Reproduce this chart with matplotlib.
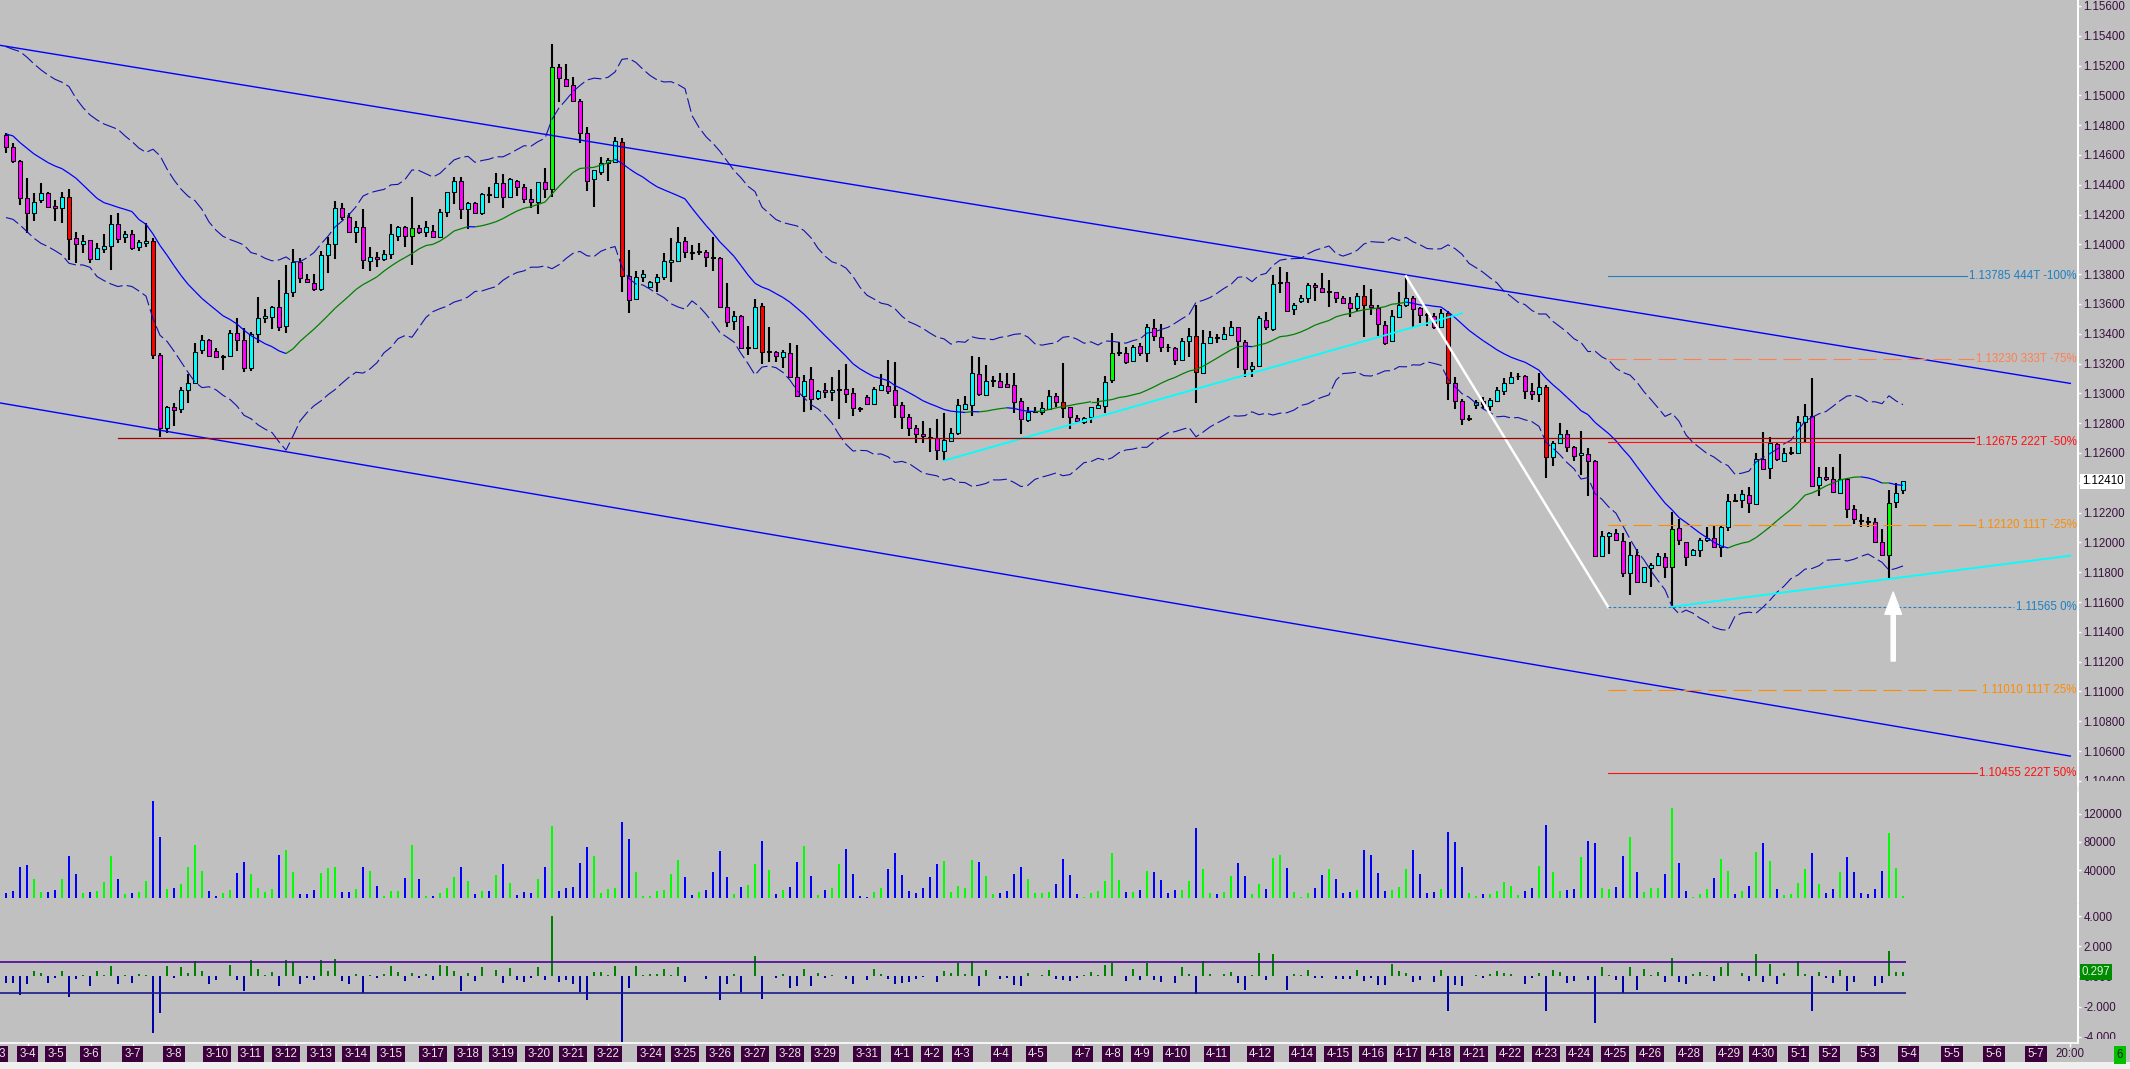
import numpy as np
import pandas as pd
import matplotlib
matplotlib.use("Agg")
import matplotlib.pyplot as plt
from matplotlib.collections import LineCollection
from matplotlib.lines import Line2D
from matplotlib.patches import Rectangle
from matplotlib.ticker import FormatStrFormatter
from matplotlib.transforms import Bbox, blended_transform_factory

plt.rcParams['font.family'] = ['Liberation Sans', 'DejaVu Sans']
plt.rcParams['lines.scale_dashes'] = False

# ---- candles (one bar = one period) ----
opens = [
    1.14735, 1.14656, 1.14562, 1.14314, 1.14209, 1.14298, 1.14343, 1.14258, 1.14242, 1.14316,
    1.14041, 1.14001, 1.14030, 1.13900, 1.13971, 1.13989, 1.14137, 1.14048, 1.14068, 1.13980,
    1.14007, 1.14025, 1.13258, 1.12766, 1.12909, 1.12893, 1.13023, 1.13072, 1.13291, 1.13359,
    1.13287, 1.13244, 1.13251, 1.13408, 1.13359, 1.13168, 1.13399, 1.13504, 1.13515, 1.13578,
    1.13452, 1.13683, 1.13880, 1.13766, 1.13743, 1.13699, 1.13927, 1.14001, 1.14242, 1.14182,
    1.14086, 1.14115, 1.13891, 1.13918, 1.13900, 1.13934, 1.14057, 1.14119, 1.14057, 1.14108,
    1.14081, 1.14092, 1.14052, 1.14215, 1.14354, 1.14428, 1.14235, 1.14276, 1.14213, 1.14329,
    1.14320, 1.14410, 1.14320, 1.14428, 1.14383, 1.14303, 1.14287, 1.14421, 1.14370, 1.15193,
    1.15108, 1.15070, 1.14965, 1.14750, 1.14437, 1.14488, 1.14549, 1.14555, 1.14685, 1.13790,
    1.13631, 1.13779, 1.13717, 1.13750, 1.13784, 1.13880, 1.13891, 1.14025, 1.13943, 1.13947,
    1.13951, 1.13909, 1.13907, 1.13582, 1.13486, 1.13520, 1.13307, 1.13307, 1.13587, 1.13278,
    1.13280, 1.13247, 1.13273, 1.13112, 1.12985, 1.13094, 1.12967, 1.13023, 1.13007, 1.13025,
    1.13028, 1.13001, 1.12894, 1.12974, 1.12929, 1.13023, 1.13050, 1.13023, 1.12923, 1.12840,
    1.12766, 1.12728, 1.12704, 1.12699, 1.12616, 1.12683, 1.12737, 1.12896, 1.12923, 1.13131,
    1.12990, 1.13084, 1.13086, 1.13063, 1.13057, 1.12949, 1.12822, 1.12876, 1.12878, 1.12896,
    1.12983, 1.12945, 1.12907, 1.12833, 1.12811, 1.12840, 1.12900, 1.12918, 1.13090, 1.13274,
    1.13269, 1.13218, 1.13319, 1.13269, 1.13437, 1.13381, 1.13308, 1.13307, 1.13225, 1.13352,
    1.13386, 1.13135, 1.13341, 1.13372, 1.13363, 1.13392, 1.13444, 1.13347, 1.13162, 1.13184,
    1.13492, 1.13430, 1.13740, 1.13745, 1.13564, 1.13620, 1.13638, 1.13727, 1.13705, 1.13682,
    1.13678, 1.13638, 1.13604, 1.13571, 1.13655, 1.13593, 1.13575, 1.13459, 1.13351, 1.13515,
    1.13593, 1.13638, 1.13571, 1.13524, 1.13519, 1.13447, 1.13537, 1.13067, 1.12951, 1.12829,
    1.12922, 1.12951, 1.12915, 1.12951, 1.13018, 1.13072, 1.13114, 1.13116, 1.13018, 1.12996,
    1.13045, 1.12575, 1.12665, 1.12727, 1.12642, 1.12589, 1.12593, 1.12546, 1.11911, 1.12045,
    1.12061, 1.12011, 1.11792, 1.11915, 1.11736, 1.11826, 1.11848, 1.11904, 1.11832, 1.12094,
    1.12005, 1.11915, 1.11949, 1.12016, 1.12027, 1.11971, 1.12101, 1.12278, 1.12284, 1.12318,
    1.12258, 1.12560, 1.12497, 1.12660, 1.12548, 1.12600, 1.12598, 1.12810, 1.12848, 1.12385,
    1.12441, 1.12425, 1.12334, 1.12423, 1.12224, 1.12144, 1.12139, 1.12139, 1.12005, 1.11915,
    1.12273, 1.12349,
]
highs = [
    1.14746, 1.14678, 1.14567, 1.14444, 1.14343, 1.14414, 1.14354, 1.14298, 1.14354, 1.14370,
    1.14083, 1.14063, 1.14030, 1.14007, 1.14070, 1.14198, 1.14213, 1.14090, 1.14097, 1.14030,
    1.14142, 1.14041, 1.13273, 1.12916, 1.12933, 1.13041, 1.13130, 1.13341, 1.13392, 1.13363,
    1.13303, 1.13258, 1.13426, 1.13504, 1.13437, 1.13414, 1.13649, 1.13564, 1.13587, 1.13761,
    1.13862, 1.13969, 1.13907, 1.13801, 1.13799, 1.13958, 1.14048, 1.14291, 1.14276, 1.14209,
    1.14155, 1.14235, 1.13985, 1.13951, 1.13963, 1.14137, 1.14124, 1.14124, 1.14316, 1.14130,
    1.14159, 1.14130, 1.14235, 1.14354, 1.14450, 1.14450, 1.14287, 1.14287, 1.14343, 1.14388,
    1.14477, 1.14473, 1.14448, 1.14432, 1.14406, 1.14370, 1.14421, 1.14511, 1.15345, 1.15211,
    1.15211, 1.15126, 1.14974, 1.14790, 1.14499, 1.14589, 1.14578, 1.14723, 1.14712, 1.13963,
    1.13824, 1.13828, 1.13757, 1.13801, 1.13940, 1.14041, 1.14115, 1.14052, 1.13996, 1.14012,
    1.13963, 1.14052, 1.13914, 1.13739, 1.13553, 1.13527, 1.13452, 1.13631, 1.13609, 1.13448,
    1.13285, 1.13291, 1.13341, 1.13325, 1.13121, 1.13175, 1.13023, 1.13068, 1.13112, 1.13157,
    1.13198, 1.13034, 1.12911, 1.12990, 1.13046, 1.13131, 1.13225, 1.13209, 1.12945, 1.12862,
    1.12788, 1.12815, 1.12766, 1.12826, 1.12867, 1.12771, 1.12963, 1.12983, 1.13251, 1.13242,
    1.13191, 1.13117, 1.13140, 1.13140, 1.13135, 1.12967, 1.12911, 1.12911, 1.12945, 1.13023,
    1.13001, 1.13202, 1.12911, 1.12855, 1.12844, 1.12907, 1.12972, 1.13117, 1.13404, 1.13347,
    1.13310, 1.13325, 1.13341, 1.13466, 1.13497, 1.13464, 1.13330, 1.13314, 1.13370, 1.13437,
    1.13594, 1.13426, 1.13421, 1.13399, 1.13444, 1.13486, 1.13448, 1.13359, 1.13209, 1.13520,
    1.13548, 1.13794, 1.13846, 1.13817, 1.13609, 1.13660, 1.13738, 1.13738, 1.13805, 1.13761,
    1.13682, 1.13653, 1.13649, 1.13676, 1.13727, 1.13698, 1.13593, 1.13488, 1.13559, 1.13682,
    1.13785, 1.13653, 1.13577, 1.13541, 1.13541, 1.13564, 1.13553, 1.13107, 1.12960, 1.12855,
    1.12955, 1.12973, 1.12967, 1.13040, 1.13101, 1.13145, 1.13139, 1.13123, 1.13067, 1.13139,
    1.13056, 1.12682, 1.12799, 1.12754, 1.12647, 1.12747, 1.12631, 1.12553, 1.12078, 1.12072,
    1.12090, 1.12065, 1.12005, 1.11953, 1.11837, 1.11859, 1.11931, 1.11931, 1.12206, 1.12155,
    1.12005, 1.11953, 1.12027, 1.12106, 1.12117, 1.12117, 1.12325, 1.12325, 1.12352, 1.12374,
    1.12598, 1.12743, 1.12705, 1.12676, 1.12631, 1.12642, 1.12848, 1.12926, 1.13101, 1.12508,
    1.12504, 1.12504, 1.12591, 1.12430, 1.12251, 1.12189, 1.12168, 1.12161, 1.12088, 1.12352,
    1.12401, 1.12414,
]
lows = [
    1.14611, 1.14544, 1.14265, 1.14075, 1.14159, 1.14280, 1.14253, 1.14159, 1.14142, 1.13896,
    1.13878, 1.13945, 1.13873, 1.13896, 1.13945, 1.13828, 1.14012, 1.14007, 1.13963, 1.13958,
    1.13985, 1.13229, 1.12705, 1.12737, 1.12781, 1.12871, 1.12933, 1.13063, 1.13265, 1.13242,
    1.13235, 1.13157, 1.13247, 1.13287, 1.13144, 1.13153, 1.13336, 1.13470, 1.13430, 1.13421,
    1.13408, 1.13649, 1.13739, 1.13739, 1.13690, 1.13690, 1.13810, 1.13905, 1.14164, 1.14075,
    1.14007, 1.13833, 1.13824, 1.13851, 1.13891, 1.13900, 1.14025, 1.13985, 1.13862, 1.14070,
    1.14048, 1.14048, 1.14052, 1.14182, 1.14271, 1.14168, 1.14104, 1.14202, 1.14198, 1.14280,
    1.14316, 1.14242, 1.14314, 1.14325, 1.14276, 1.14242, 1.14202, 1.14314, 1.14320, 1.14958,
    1.15054, 1.14958, 1.14678, 1.14361, 1.14249, 1.14466, 1.14428, 1.14549, 1.13683, 1.13538,
    1.13627, 1.13750, 1.13717, 1.13683, 1.13761, 1.13746, 1.13885, 1.13907, 1.13896, 1.13927,
    1.13846, 1.13824, 1.13578, 1.13443, 1.13426, 1.13296, 1.13258, 1.13296, 1.13198, 1.13213,
    1.13209, 1.13168, 1.13101, 1.12978, 1.12873, 1.12889, 1.12956, 1.12967, 1.12951, 1.12826,
    1.12934, 1.12849, 1.12878, 1.12923, 1.12923, 1.13019, 1.12996, 1.12833, 1.12759, 1.12715,
    1.12665, 1.12665, 1.12609, 1.12553, 1.12549, 1.12677, 1.12721, 1.12889, 1.12849, 1.12983,
    1.12985, 1.13046, 1.13046, 1.13041, 1.12871, 1.12728, 1.12806, 1.12867, 1.12855, 1.12889,
    1.12911, 1.12833, 1.12762, 1.12806, 1.12795, 1.12804, 1.12900, 1.12871, 1.13068, 1.13251,
    1.13198, 1.13209, 1.13251, 1.13213, 1.13354, 1.13280, 1.13280, 1.13191, 1.13220, 1.13247,
    1.12934, 1.13128, 1.13336, 1.13341, 1.13359, 1.13386, 1.13169, 1.13108, 1.13108, 1.13179,
    1.13425, 1.13418, 1.13671, 1.13544, 1.13526, 1.13609, 1.13609, 1.13622, 1.13671, 1.13577,
    1.13604, 1.13600, 1.13515, 1.13555, 1.13380, 1.13526, 1.13385, 1.13324, 1.13347, 1.13515,
    1.13577, 1.13447, 1.13474, 1.13452, 1.13430, 1.13447, 1.12955, 1.12893, 1.12788, 1.12817,
    1.12895, 1.12895, 1.12884, 1.12940, 1.12989, 1.13067, 1.13090, 1.12962, 1.12955, 1.12940,
    1.12430, 1.12515, 1.12660, 1.12604, 1.12548, 1.12452, 1.12313, 1.11904, 1.11908, 1.11920,
    1.12011, 1.11765, 1.11647, 1.11729, 1.11736, 1.11698, 1.11841, 1.11759, 1.11565, 1.11982,
    1.11844, 1.11909, 1.11900, 1.12005, 1.11967, 1.11900, 1.12079, 1.12273, 1.12233, 1.12195,
    1.12251, 1.12486, 1.12423, 1.12548, 1.12548, 1.12586, 1.12593, 1.12665, 1.12378, 1.12314,
    1.12414, 1.12334, 1.12329, 1.12161, 1.12123, 1.12106, 1.12101, 1.11998, 1.11909, 1.11760,
    1.12233, 1.12322,
]
closes = [
    1.14652, 1.14562, 1.14314, 1.14209, 1.14287, 1.14343, 1.14253, 1.14242, 1.14316, 1.14034,
    1.14001, 1.14023, 1.13900, 1.13974, 1.13989, 1.14135, 1.14034, 1.14070, 1.13978, 1.14014,
    1.14025, 1.13258, 1.12766, 1.12911, 1.12889, 1.13023, 1.13072, 1.13280, 1.13359, 1.13251,
    1.13242, 1.13244, 1.13408, 1.13359, 1.13168, 1.13397, 1.13504, 1.13522, 1.13578, 1.13448,
    1.13672, 1.13880, 1.13772, 1.13746, 1.13699, 1.13927, 1.14001, 1.14242, 1.14182, 1.14086,
    1.14115, 1.13896, 1.13914, 1.13900, 1.13934, 1.14070, 1.14115, 1.14057, 1.14108, 1.14081,
    1.14119, 1.14048, 1.14215, 1.14354, 1.14428, 1.14235, 1.14280, 1.14213, 1.14336, 1.14329,
    1.14410, 1.14320, 1.14439, 1.14383, 1.14303, 1.14287, 1.14421, 1.14370, 1.15193, 1.15115,
    1.15063, 1.14965, 1.14750, 1.14428, 1.14499, 1.14549, 1.14567, 1.14696, 1.13790, 1.13627,
    1.13779, 1.13799, 1.13750, 1.13784, 1.13891, 1.13896, 1.14019, 1.13947, 1.13943, 1.13947,
    1.13918, 1.13909, 1.13582, 1.13482, 1.13522, 1.13307, 1.13307, 1.13582, 1.13276, 1.13278,
    1.13253, 1.13280, 1.13112, 1.12985, 1.13086, 1.12962, 1.13018, 1.13007, 1.13023, 1.13025,
    1.12994, 1.12900, 1.12894, 1.12929, 1.13028, 1.13057, 1.13019, 1.12923, 1.12840, 1.12766,
    1.12728, 1.12715, 1.12704, 1.12621, 1.12688, 1.12737, 1.12923, 1.12929, 1.13135, 1.12996,
    1.13084, 1.13084, 1.13046, 1.13046, 1.12945, 1.12826, 1.12873, 1.12876, 1.12900, 1.12983,
    1.12945, 1.12900, 1.12840, 1.12817, 1.12833, 1.12907, 1.12923, 1.13079, 1.13269, 1.13274,
    1.13213, 1.13314, 1.13269, 1.13448, 1.13386, 1.13310, 1.13308, 1.13225, 1.13352, 1.13386,
    1.13146, 1.13341, 1.13377, 1.13372, 1.13397, 1.13448, 1.13352, 1.13162, 1.13184, 1.13504,
    1.13443, 1.13732, 1.13740, 1.13555, 1.13593, 1.13638, 1.13727, 1.13711, 1.13682, 1.13682,
    1.13638, 1.13609, 1.13571, 1.13655, 1.13593, 1.13577, 1.13465, 1.13340, 1.13519, 1.13593,
    1.13638, 1.13564, 1.13526, 1.13524, 1.13443, 1.13537, 1.13067, 1.12951, 1.12826, 1.12829,
    1.12944, 1.12929, 1.12955, 1.13022, 1.13072, 1.13112, 1.13114, 1.13018, 1.12996, 1.13045,
    1.12575, 1.12665, 1.12727, 1.12642, 1.12582, 1.12602, 1.12546, 1.11911, 1.12045, 1.12065,
    1.12016, 1.11792, 1.11915, 1.11736, 1.11832, 1.11848, 1.11908, 1.11832, 1.12087, 1.12016,
    1.11904, 1.11949, 1.12016, 1.12032, 1.11971, 1.12101, 1.12280, 1.12278, 1.12325, 1.12262,
    1.12560, 1.12490, 1.12665, 1.12557, 1.12598, 1.12600, 1.12808, 1.12848, 1.12381, 1.12441,
    1.12423, 1.12336, 1.12423, 1.12224, 1.12155, 1.12144, 1.12139, 1.12005, 1.11915, 1.12267,
    1.12329, 1.12410,
]
volumes = [
    7100, 10900, 44900, 47300, 27400, 9500, 9500, 12300, 27400, 60500,
    35000, 7100, 9500, 10900, 23600, 60500, 27900, 6600, 8000, 9500,
    25100, 138500, 87500, 13200, 15100, 20800, 44900, 75600, 38800, 10900,
    3800, 8000, 12300, 36400, 52000, 35000, 15100, 9500, 13200, 61900,
    69000, 37800, 6600, 6600, 12300, 36400, 43500, 44900, 9500, 9500,
    13700, 44900, 39200, 18000, 3800, 10900, 10900, 29300, 76100, 27900,
    3800, 3800, 8000, 15100, 30700, 44900, 25100, 6600, 10900, 10900,
    33600, 49200, 22200, 5200, 9500, 8000, 27900, 44900, 103000, 10900,
    15100, 16500, 50600, 73300, 60500, 8000, 13700, 15100, 108700, 84600,
    37800, 3800, 3800, 10900, 12300, 35000, 54800, 30700, 5200, 9400,
    12200, 37700, 67400, 30600, 6600, 16500, 19300, 49000, 81500, 40500,
    6600, 12200, 16500, 51800, 74400, 32000, 5200, 12200, 15100, 49000,
    70200, 34900, 3800, 2400, 9400, 15100, 41900, 64500, 33400, 10800,
    8000, 15100, 30600, 49000, 53200, 9400, 17900, 15100, 54600, 51800,
    32000, 6600, 8000, 10800, 34900, 44700, 27800, 8000, 8000, 9400,
    20700, 56000, 33400, 6600, 2400, 8000, 10800, 25000, 64500, 26400,
    9400, 9400, 12200, 39100, 37700, 26400, 8000, 12200, 12200, 25000,
    99900, 41900, 8000, 6600, 9400, 32000, 50400, 32000, 6600, 20700,
    13700, 57500, 61700, 43300, 9400, 2400, 8000, 15100, 33400, 41900,
    27800, 8000, 9400, 12200, 68800, 61700, 36300, 10800, 12200, 16500,
    41900, 68800, 34900, 8000, 9400, 13700, 94200, 80100, 44700, 8000,
    3800, 6600, 6600, 10800, 23600, 17900, 5200, 10800, 15100, 46200,
    104100, 37700, 10800, 12200, 13700, 58900, 81500, 78700, 15100, 13700,
    16500, 60300, 87100, 37700, 9400, 15100, 15100, 34900, 128100, 50400,
    10800, 2400, 6600, 13700, 29200, 56000, 39100, 6600, 10800, 17900,
    65900, 78700, 53200, 13700, 5200, 6600, 22100, 41900, 64500, 20700,
    8000, 13700, 37700, 58900, 37700, 8000, 6600, 13700, 39100, 92800,
    43300, 3800,
]
# bars the platform paints as signal candles
red_bars = [9, 21, 88, 108, 151, 170, 194, 206, 220]
lime_bars = [58, 78, 158, 238, 269]

# channel / average values for the bars before the 20-bar window fills
mid_head = [1.14741, 1.14728, 1.14683, 1.14645, 1.14607, 1.14578, 1.14549, 1.14526, 1.14508, 1.14477,
            1.14444, 1.14399, 1.14354, 1.14309, 1.14280, 1.14265, 1.14249, 1.14235, 1.14220]
upper_head = [1.15327, 1.15309, 1.15294, 1.15256, 1.15211, 1.15171, 1.15137, 1.15108, 1.15088, 1.15059,
              1.14980, 1.14918, 1.14869, 1.14835, 1.14808, 1.14790, 1.14772, 1.14728, 1.14690]
lower_head = [1.14180, 1.14168, 1.14130, 1.14086, 1.14041, 1.14007, 1.13985, 1.13958, 1.13929, 1.13873,
              1.13862, 1.13862, 1.13846, 1.13784, 1.13757, 1.13734, 1.13717, 1.13726, 1.13717]
MA_PERIOD = 20
BAND_MULT = 2.55
OSC_SCALE = 487
OSC_UPPER, OSC_LOWER = 0.97, -1.10

# drawn objects
chan_x = [-0.86, 294.9]
chan_upper = [1.15336, 1.13067]
chan_lower = [1.12936, 1.10566]
trend1_x, trend1_y = [134, 208], [1.12549, 1.13537]
trend2_x, trend2_y = [238, 294.9], [1.11568, 1.11911]
leg_x, leg_y = [200, 228.9], [1.13785, 1.11565]
hline_start, hline_price = 16, 1.12700
fib_start = 228.9
fib_prices = [1.13785, 1.13230, 1.12675, 1.12120, 1.11565, 1.11010, 1.10455]
fib_labels = ["1.13785 444T -100%", "1.13230 333T -75%", "1.12675 222T -50%",
              "1.12120 111T -25%", "1.11565 0%", "1.11010 111T 25%", "1.10455 222T 50%"]
arrow_bar, arrow_tip, arrow_tail = 269.6, 1.11667, 1.11204

date_labels = ["3-3", "3-4", "3-5", "3-6", "3-7", "3-8", "3-10", "3-11", "3-12", "3-13",
               "3-14", "3-15", "3-17", "3-18", "3-19", "3-20", "3-21", "3-22", "3-24", "3-25",
               "3-26", "3-27", "3-28", "3-29", "3-31", "4-1", "4-2", "4-3", "4-4", "4-5",
               "4-7", "4-8", "4-9", "4-10", "4-11", "4-12", "4-14", "4-15", "4-16", "4-17",
               "4-18", "4-21", "4-22", "4-23", "4-24", "4-25", "4-26", "4-28", "4-29", "4-30",
               "5-1", "5-2", "5-3", "5-4", "5-5", "5-6", "5-7"]
date_pos = [-1.2, 3.1, 7.1, 12.1, 18.1, 24, 30.1, 35, 40, 45,
            50, 55, 61, 66, 71, 76.1, 81, 86, 92.1, 97,
            102, 107, 112, 117, 123, 128, 132.3, 136.6, 142.2, 147.2,
            153.8, 158.1, 162.3, 167.2, 173, 179.2, 185.2, 190.3, 195.3, 200.2,
            204.9, 209.7, 214.9, 220, 224.8, 229.9, 234.9, 240.5, 246.2, 251,
            256.1, 260.5, 266, 271.8, 278, 284, 290]
time_label, time_pos = "20:00", 294.9

o = np.array(opens)
h = np.array(highs)
l = np.array(lows)
c = np.array(closes)
v = np.array(volumes)
n = len(c)
x = np.arange(n)

# ---- figure / panels ----
W, H = 2130, 1069
AX_R = 2078
BG = '#c0c0c0'
LBL = '#3a1040'
fig = plt.figure(figsize=(W / 100, H / 100), dpi=100, facecolor=BG)


def frame(top, bottom):
    return [0, 1 - bottom / H, AX_R / W, (bottom - top) / H]


ax_p = fig.add_axes(frame(0, 785))
ax_v = fig.add_axes(frame(793, 902), sharex=ax_p)
ax_o = fig.add_axes(frame(905, 1043), sharex=ax_p)

for ax in (ax_p, ax_v, ax_o):
    ax.set_facecolor(BG)
    for s in ('left', 'top', 'bottom'):
        ax.spines[s].set_visible(False)
    ax.spines['right'].set_color('white')
    ax.spines['right'].set_linewidth(1.2)
    ax.yaxis.tick_right()
    ax.tick_params(axis='y', colors='white', labelcolor=LBL, length=2.5, width=1,
                   pad=1.5, labelsize=8.3)
    ax.tick_params(axis='x', bottom=False, labelbottom=False)

ax_p.set_xlim(-6 / 7, (AX_R - 6) / 7)
ax_p.set_ylim(1.10372, 1.15640)
ax_p.set_yticks(np.arange(1.104, 1.1561, 0.002))
ax_p.yaxis.set_major_formatter(FormatStrFormatter('%.5f'))

# ---- candles ----
body_col = np.where(c > o, '#00ffff', np.where(c < o, '#ff00ff', '#000000')).astype(object)
body_col[red_bars] = '#ff0000'
body_col[lime_bars] = '#00ff00'
ax_p.vlines(x, l, h, color='black', lw=1.5, zorder=3)
ax_p.bar(x, np.maximum(np.abs(c - o), 0.00006), bottom=np.minimum(o, c), width=0.6,
         color=list(body_col), edgecolor='black', linewidth=0.75, zorder=4)

# ---- moving average channel (SMA +/- ATR) with slope-coloured middle line ----
cs = pd.Series(c)
prev_c = cs.shift(1).fillna(cs.iloc[0])
tr = pd.concat([pd.Series(h - l), (pd.Series(h) - prev_c).abs(),
                (pd.Series(l) - prev_c).abs()], axis=1).max(axis=1)
mid = cs.rolling(MA_PERIOD).mean().to_numpy()
atr = tr.rolling(MA_PERIOD).mean().to_numpy()
upper = mid + BAND_MULT * atr
lower = mid - BAND_MULT * atr
k = MA_PERIOD - 1
mid[:k], upper[:k], lower[:k] = mid_head, upper_head, lower_head
ax_p.plot(x, upper, color='#1010b0', lw=0.8, ls=(0, (10, 3)), zorder=5)
ax_p.plot(x, lower, color='#1010b0', lw=0.8, ls=(0, (10, 3)), zorder=5)
pts = np.column_stack([x, mid])
segs = np.stack([pts[:-1], pts[1:]], axis=1)
seg_col = np.where(np.diff(mid) >= 0, '#008000', '#0000ff')
ax_p.add_collection(LineCollection(segs, colors=seg_col, linewidths=0.9, zorder=5))

# ---- drawn lines ----
ax_p.plot(chan_x, chan_upper, color='#0000ff', lw=1.0, zorder=6)
ax_p.plot(chan_x, chan_lower, color='#0000ff', lw=1.0, zorder=6)
ax_p.plot(trend1_x, trend1_y, color='#00ffff', lw=1.3, zorder=6)
ax_p.plot(trend2_x, trend2_y, color='#00ffff', lw=1.3, zorder=6)
ax_p.plot(leg_x, leg_y, color='white', lw=1.8, zorder=6)

fib_cols = ['#1e80c0', '#ff7f50', '#ff1010', '#ff8c00', '#1e80c0', '#ff8c00', '#ff1010']
fib_ls = ['-', (0, (13, 5)), '-', (0, (13, 5)), (0, (2, 1.6)), (0, (13, 5)), '-']
tr_p = blended_transform_factory(ax_p.transAxes, ax_p.transData)
fib_texts = []
for price, lab, col in zip(fib_prices, fib_labels, fib_cols):
    fib_texts.append(ax_p.text(1 - 1.5 / AX_R, price, lab, transform=tr_p, ha='right',
                               va='center', fontsize=8.3, color=col, zorder=8))

ax_p.annotate('', xy=(arrow_bar, arrow_tip), xytext=(arrow_bar, arrow_tail),
              arrowprops=dict(facecolor='white', edgecolor='white', width=3,
                              headwidth=12, headlength=16), zorder=9)

ax_p.text(1 + 4 / AX_R, closes[-1], f'{closes[-1]:.5f}', transform=tr_p, ha='left',
          va='center', fontsize=8.3, color='black', zorder=10, clip_on=False,
          bbox=dict(boxstyle='square,pad=0.15', fc='white', ec='none'))

# ---- volume ----
up = (c > o) | ((c == o) & (c >= np.r_[c[0], c[:-1]]))
ax_v.bar(x, v, width=0.4, color=np.where(up, '#00ff00', '#0000ff'), linewidth=0)
ax_v.set_ylim(-4947, 149100)
ax_v.set_yticks([40000, 80000, 120000])
ax_v.yaxis.set_major_formatter(FormatStrFormatter('%d'))

# ---- body oscillator ----
osc = (c - o) * OSC_SCALE
ax_o.bar(x, osc, width=0.4, color=np.where(osc >= 0, '#008000', '#0000a8'), linewidth=0)
ax_o.hlines(OSC_UPPER, -0.86, n - 0.6, color='#4b0096', lw=1.2)
ax_o.hlines(OSC_LOWER, -0.86, n - 0.6, color='#1a1a8c', lw=1.2)
ax_o.set_ylim(-4.404, 4.735)
ax_o.set_yticks([-4, -2, 0, 2, 4])
ax_o.yaxis.set_major_formatter(FormatStrFormatter('%.3f'))
tr_o = blended_transform_factory(ax_o.transAxes, ax_o.transData)
ax_o.text(1 + 4 / AX_R, osc[-1], f'{osc[-1]:.3f}', transform=tr_o, ha='left', va='center',
          fontsize=8.3, color='#e0f0e0', zorder=10, clip_on=False,
          bbox=dict(boxstyle='square,pad=0.15', fc='#008c00', ec='none'))

# ---- date axis ----
ax_o.spines['bottom'].set_visible(True)
ax_o.spines['bottom'].set_color('white')
ax_o.spines['bottom'].set_linewidth(1.2)
ax_o.set_xticks([p for p in date_pos if p > -0.8] + [time_pos])
ax_o.tick_params(axis='x', bottom=True, colors='white', length=3, width=1, labelbottom=False)
tr_x = ax_o.get_xaxis_transform()
for p, lab in zip(date_pos, date_labels):
    ax_o.text(p, -0.083, lab, transform=tr_x, ha='center', va='center', fontsize=8.3,
              color='#e6e6e6', clip_on=False,
              bbox=dict(boxstyle='square,pad=0.2', fc='#3c003c', ec='none'))
ax_o.text(time_pos, -0.083, time_label, transform=tr_x, ha='center', va='center',
          fontsize=8.3, color=LBL, clip_on=False)

fig.add_artist(Line2D([AX_R / W] * 2, [1 - 1043 / H, 1], color='white', lw=1.2))
fig.add_artist(Rectangle((0, 0), 1, 7 / H, transform=fig.transFigure, fc='#f0f0f0', ec='none'))
fig.text(2120 / W, 1 - 1055 / H, '6', ha='center', va='center', fontsize=8.3, color='#202020',
         bbox=dict(boxstyle='square,pad=0.25', fc='#00c000', ec='none'))

# ---- fib lines stop where their label begins ----
fig.canvas.draw()
inv = ax_p.transData.inverted()
ends = []
for t, price, col, ls in zip(fib_texts, fib_prices, fib_cols, fib_ls):
    x_end = inv.transform((t.get_window_extent().x0 - 2, 0))[0]
    ends.append(x_end)
    ax_p.plot([fib_start, x_end], [price, price], color=col, lw=0.8, ls=ls, zorder=6)
ax_p.plot([hline_start, ends[2]], [hline_price, hline_price], color='#a00000', lw=0.9, zorder=6)

# cut the edge labels a little above their panel border, as the platform does
for ax in (ax_p, ax_o):
    bb = ax.get_window_extent()
    clip = Bbox.from_extents(0, bb.y0 + 4, W, bb.y1)
    for lbl in ax.get_yticklabels():
        lbl.set_clip_box(clip)

fig.savefig('out.png', dpi=100, facecolor=BG)
